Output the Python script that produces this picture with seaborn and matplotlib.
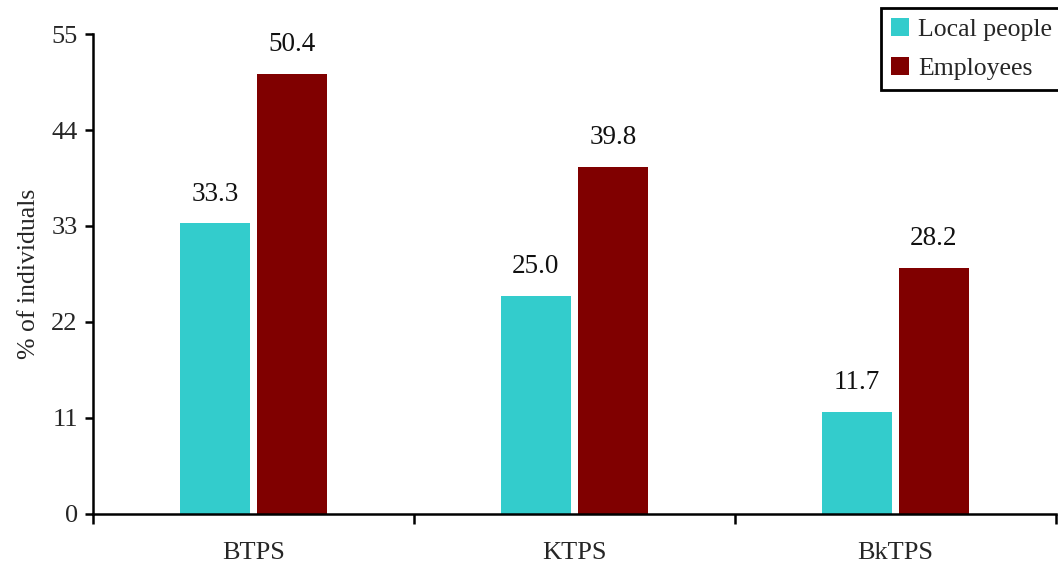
import matplotlib
matplotlib.use("Agg")
import matplotlib.pyplot as plt
import seaborn as sns
import pandas as pd
from matplotlib.ticker import FixedLocator, NullFormatter

# Share of respondents per thermal power station
stations = ["BTPS", "KTPS", "BkTPS"]
local_people = [33.3, 25.0, 11.7]
employees = [50.4, 39.8, 28.2]
groups = ["Local people", "Employees"]
y_ticks = [0, 11, 22, 33, 44, 55]

df = pd.DataFrame({
    "station": stations * 2,
    "group": [groups[0]] * 3 + [groups[1]] * 3,
    "value": local_people + employees,
})

sns.set_style("white")
plt.rcParams["font.family"] = ["Liberation Serif", "DejaVu Serif"]

fig = plt.figure(figsize=(10.58, 5.64), dpi=100)
ax = fig.add_axes([0.0879, 0.0887, 0.9101, 0.851])

palette = {"Local people": "#33CCCC", "Employees": "#800000"}
sns.barplot(data=df, x="station", y="value", hue="group", order=stations,
            hue_order=groups, palette=palette, width=0.48, gap=0.1,
            saturation=1, ax=ax, legend=True, errorbar=None, linewidth=0)

# value labels above the bars
for cont in ax.containers:
    ax.bar_label(cont, fmt="%.1f", padding=12, fontsize=19.5, color="#111111")

ax.set_ylim(0, 55)
ax.set_yticks(y_ticks)
ax.set_xlim(-0.5, 2.5)

# category ticks sit at the boundaries, labels at the centres
ax.xaxis.set_major_locator(FixedLocator([-0.5, 0.5, 1.5, 2.5]))
ax.xaxis.set_major_formatter(NullFormatter())
ax.xaxis.set_minor_locator(FixedLocator([0, 1, 2]))
ax.set_xticklabels(stations, minor=True)
ax.tick_params(axis="x", which="major", direction="out", length=7, width=1.8, color="black", bottom=True)
ax.tick_params(axis="x", which="minor", length=0, pad=20, labelsize=19)
ax.tick_params(axis="y", direction="out", length=6, width=1.8, color="black", left=True, labelsize=19, pad=5)

for side in ["top", "right"]:
    ax.spines[side].set_visible(False)
for side in ["left", "bottom"]:
    ax.spines[side].set_color("black")
    ax.spines[side].set_linewidth(1.8)

ax.set_xlabel("")
ax.set_ylabel("% of individuals", fontsize=18.5, labelpad=8)

handles, labels = ax.get_legend_handles_labels()
ax.legend_.remove()
leg = fig.legend(handles, labels, loc="upper right", bbox_to_anchor=(1.004, 0.986),
                 bbox_transform=fig.transFigure, fontsize=18.5, frameon=True,
                 fancybox=False, edgecolor="black", framealpha=1,
                 handlelength=0.7, handleheight=0.7, handletextpad=0.35,
                 borderpad=0.4, labelspacing=0.6, borderaxespad=0)
leg.get_frame().set_linewidth(2)

fig.savefig("out.png", dpi=100)
